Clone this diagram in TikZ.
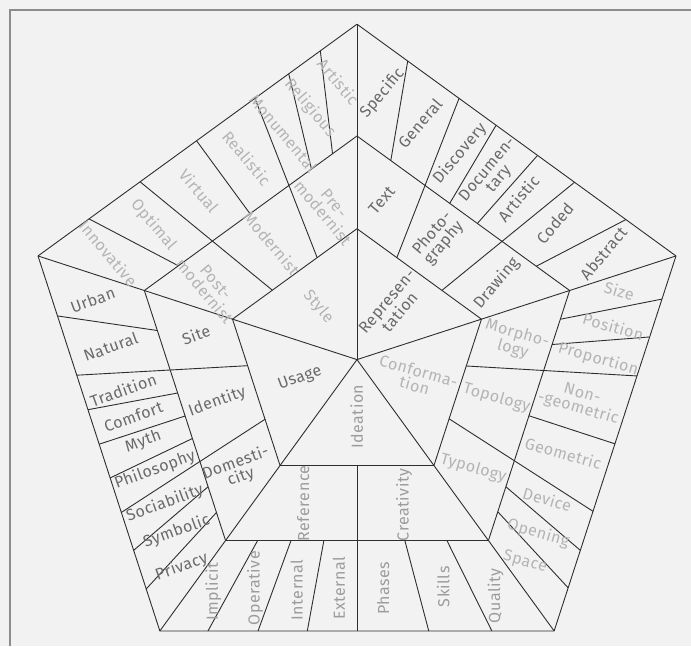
\documentclass[tikz,border=0pt]{standalone}
\usepackage{fontspec}
\setmainfont{Fira Sans}[LetterSpace=3]
\usetikzlibrary{calc}
\definecolor{paper}{HTML}{F2F2F2}
\definecolor{framegray}{HTML}{8C8C8C}
\definecolor{edge}{HTML}{2E2E2E}
\definecolor{txtdark}{HTML}{6A6A6A}
\definecolor{txtmid}{HTML}{9C9C9C}
\definecolor{txtlight}{HTML}{B4B4B4}

\begin{document}
\begin{tikzpicture}[x=1pt,y=1pt,
    lab/.style={font=\fontsize{16}{15}\selectfont,align=center,inner sep=0pt},
    repr/.style={lab,txtdark,rotate=50},
    sty/.style={lab,txtlight,rotate=-50},
    conf/.style={lab,txtlight,rotate=-16},
    idea/.style={lab,txtmid,rotate=90},
    usage/.style={lab,txtdark,rotate=20}]
  \path[use as bounding box,fill=paper] (-357,-286.4) rectangle (334,359.6);
  \draw[framegray,line width=1.2pt] (334,349.6) -- (-347,349.6) -- (-347,-286.4);

  % corners of the three pentagons
  \coordinate (c) at (0,0);
  \foreach \r/\n in {335.4/o,223.6/m,130.9/i}
    \foreach \a [count=\k] in {90,18,-54,-126,162}
      \coordinate (\n\k) at (\a:\r);

  \begin{scope}[edge,line width=0.9pt,line join=round]
    \foreach \n in {o,m,i}
      \draw (\n1) -- (\n2) -- (\n3) -- (\n4) -- (\n5) -- cycle;
    \foreach \k in {1,...,5}
      \draw (c) -- (o\k);
    % outer ring only
    \foreach \a/\b/\s in {1/2/0.159,1/2/0.436,1/2/0.566,1/2/0.843,
                          2/3/0.115,2/3/0.216,2/3/0.501,2/3/0.785,2/3/0.885,
                          3/4/0.158,3/4/0.318,3/4/0.626,3/4/0.751,3/4/0.878,
                          4/5/0.112,4/5/0.215,4/5/0.408,4/5/0.498,4/5/0.59,4/5/0.84,
                          5/1/0.16,5/1/0.497,5/1/0.786,5/1/0.885}
      \draw ($(o\a)!\s!(o\b)$) -- ($(m\a)!\s!(m\b)$);
    % outer and middle ring
    \foreach \a/\b/\s in {1/2/0.32,1/2/0.682,2/3/0.32,2/3/0.681,3/4/0.5,
                          4/5/0.316,4/5/0.682,5/1/0.32,5/1/0.68}
      \draw ($(o\a)!\s!(o\b)$) -- ($(i\a)!\s!(i\b)$);
  \end{scope}

  % representation
  \node[repr] (represent) at (36.3,52.9) {Represen-\\tation};
  \node[repr] (text) at (24.7,159.6) {Text};
  \node[repr] (photo) at (81.3,121.3) {Photo-\\graphy};
  \node[repr] (drawing) at (139.7,76.3) {Drawing};
  \node[repr] (specific) at (25.3,266.3) {Specific};
  \node[repr] (general) at (63,236.3) {General};
  \node[repr] (discovery) at (103,206.3) {Discovery};
  \node[repr] (documentary) at (136.5,185) {Documen-\\tary};
  \node[repr] (artisticr) at (161.3,161.3) {Artistic};
  \node[repr] (coded) at (198,136.3) {Coded};
  \node[repr] (abstract) at (246.3,106.3) {Abstract};

  % style
  \node[sty] (style) at (-38.7,52.9) {Style};
  \node[sty] (premod) at (-28.7,151.3) {Pre-\\modernist};
  \node[sty] (modernist) at (-85.3,116.3) {Modernist};
  \node[sty] (postmod) at (-147,72.9) {Post-\\modernist};
  \node[sty] (artisticl) at (-18.7,277.9) {Artistic};
  \node[sty] (religious) at (-47,251.3) {Religious};
  \node[sty] (monumental) at (-73.7,226.3) {Monumental};
  \node[sty] (realistic) at (-110.3,201.3) {Realistic};
  \node[sty] (virtual) at (-158,168.6) {Virtual};
  \node[sty] (optimal) at (-203.7,134.6) {Optimal};
  \node[sty] (innovative) at (-248.7,106.3) {Innovative};

  % conformation
  \node[conf] (conform) at (59.7,-18.7) {Conforma-\\tion};
  \node[conf] (morpho) at (158,17.9) {Morpho-\\logy};
  \node[conf] (topology) at (139.7,-38.7) {Topology};
  \node[conf] (typology) at (116.3,-108.7) {Typology};
  \node[conf] (size) at (262.3,68.6) {Size};
  \node[conf] (position) at (256.3,32.9) {Position};
  \node[conf] (proportion) at (241.3,0.3) {Proportion};
  \node[conf] (nongeo) at (223,-42.1) {Non-\\-geometric};
  \node[conf] (geometric) at (206.3,-93.7) {Geometric};
  \node[conf] (device) at (190.3,-139.7) {Device};
  \node[conf] (opening) at (181.3,-173.7) {Opening};
  \node[conf] (space) at (168,-202.7) {Space};

  % ideation
  \node[idea] (ideation) at (-0.3,-57.1) {Ideation};
  \node[idea] (reference) at (-53.7,-143.7) {Reference};
  \node[idea] (creativity) at (47,-145.4) {Creativity};
  \node[idea] (implicit) at (-143.7,-232.1) {Implicit};
  \node[idea] (operative) at (-102,-228.7) {Operative};
  \node[idea] (internal) at (-60.3,-230.4) {Internal};
  \node[idea] (external) at (-18,-228.7) {External};
  \node[idea] (phases) at (26.3,-228.7) {Phases};
  \node[idea] (skills) at (86.3,-227.1) {Skills};
  \node[idea] (quality) at (138.7,-236.4) {Quality};

  % usage
  \node[usage] (usagelab) at (-57,-18.7) {Usage};
  \node[usage] (site) at (-161,24.6) {Site};
  \node[usage] (identity) at (-139.7,-42.1) {Identity};
  \node[usage] (domestic) at (-118.7,-110.4) {Domesti-\\city};
  \node[usage] (urban) at (-264.3,59.6) {Urban};
  \node[usage] (natural) at (-246.3,12.9) {Natural};
  \node[usage] (tradition) at (-233.7,-30.4) {Tradition};
  \node[usage] (comfort) at (-223.7,-57.1) {Comfort};
  \node[usage] (myth) at (-213.7,-82.1) {Myth};
  \node[usage] (philosophy) at (-202,-110.4) {Philosophy};
  \node[usage] (sociability) at (-192,-143.7) {Sociability};
  \node[usage] (symbolic) at (-180.3,-172.1) {Symbolic};
  \node[usage] (privacy) at (-175.3,-207.1) {Privacy};
\end{tikzpicture}
\end{document}
